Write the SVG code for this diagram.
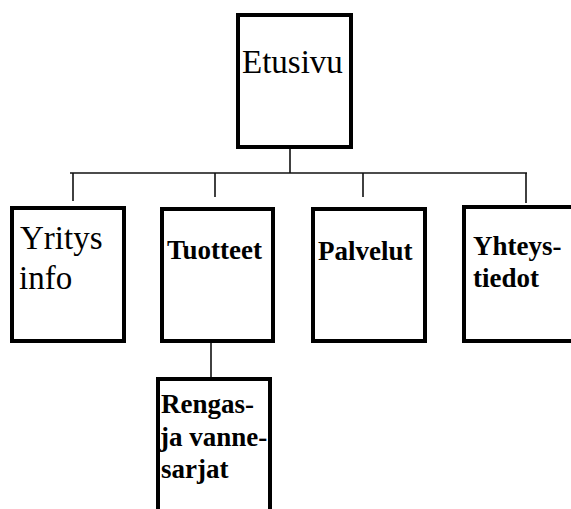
<svg xmlns="http://www.w3.org/2000/svg" width="571" height="509" viewBox="0 0 571 509">
  <style>
    .box { fill: #ffffff; stroke: #000000; stroke-width: 4; }
    .link { stroke: #111111; stroke-width: 1.6; fill: none; }
    .reg { font-size: 33px; }
    .bold { font-size: 27px; font-weight: bold; }
  </style>
  <rect width="571" height="509" fill="#ffffff"/>

  <!-- connectors -->
  <g id="connectors">
    <line class="link" x1="290" y1="149" x2="290" y2="173"/>
    <line class="link" x1="70" y1="173" x2="527" y2="173"/>
    <line class="link" x1="73" y1="173" x2="73" y2="201"/>
    <line class="link" x1="215" y1="173" x2="215" y2="197"/>
    <line class="link" x1="363" y1="173" x2="363" y2="197"/>
    <line class="link" x1="526" y1="173" x2="526" y2="203"/>
    <line class="link" x1="211" y1="343" x2="211" y2="377"/>
  </g>

  <g font-family="Liberation Serif, serif" fill="#000000">
    <g id="etusivu">
      <rect class="box" x="238" y="15" width="113" height="132"/>
      <text class="reg" x="242" y="73">Etusivu</text>
    </g>

    <g id="yritys-info">
      <rect class="box" x="12" y="208" width="112" height="133"/>
      <text class="reg" x="20" y="249">Yritys</text>
      <text class="reg" x="19" y="289">info</text>
    </g>

    <g id="tuotteet">
      <rect class="box" x="162" y="209" width="111" height="132"/>
      <text class="bold" x="167" y="259">Tuotteet</text>
    </g>

    <g id="palvelut">
      <rect class="box" x="313" y="209" width="112" height="132"/>
      <text class="bold" x="318" y="260">Palvelut</text>
    </g>

    <g id="yhteystiedot">
      <rect class="box" x="464" y="207" width="130" height="134"/>
      <text class="bold" x="473" y="255">Yhteys-</text>
      <text class="bold" x="473" y="287">tiedot</text>
    </g>

    <g id="rengas-ja-vannesarjat">
      <rect class="box" x="158" y="379" width="112" height="150"/>
      <text class="bold" x="161" y="413">Rengas-</text>
      <text class="bold" x="160" y="446">ja vanne-</text>
      <text class="bold" x="161" y="478">sarjat</text>
    </g>
  </g>
</svg>
